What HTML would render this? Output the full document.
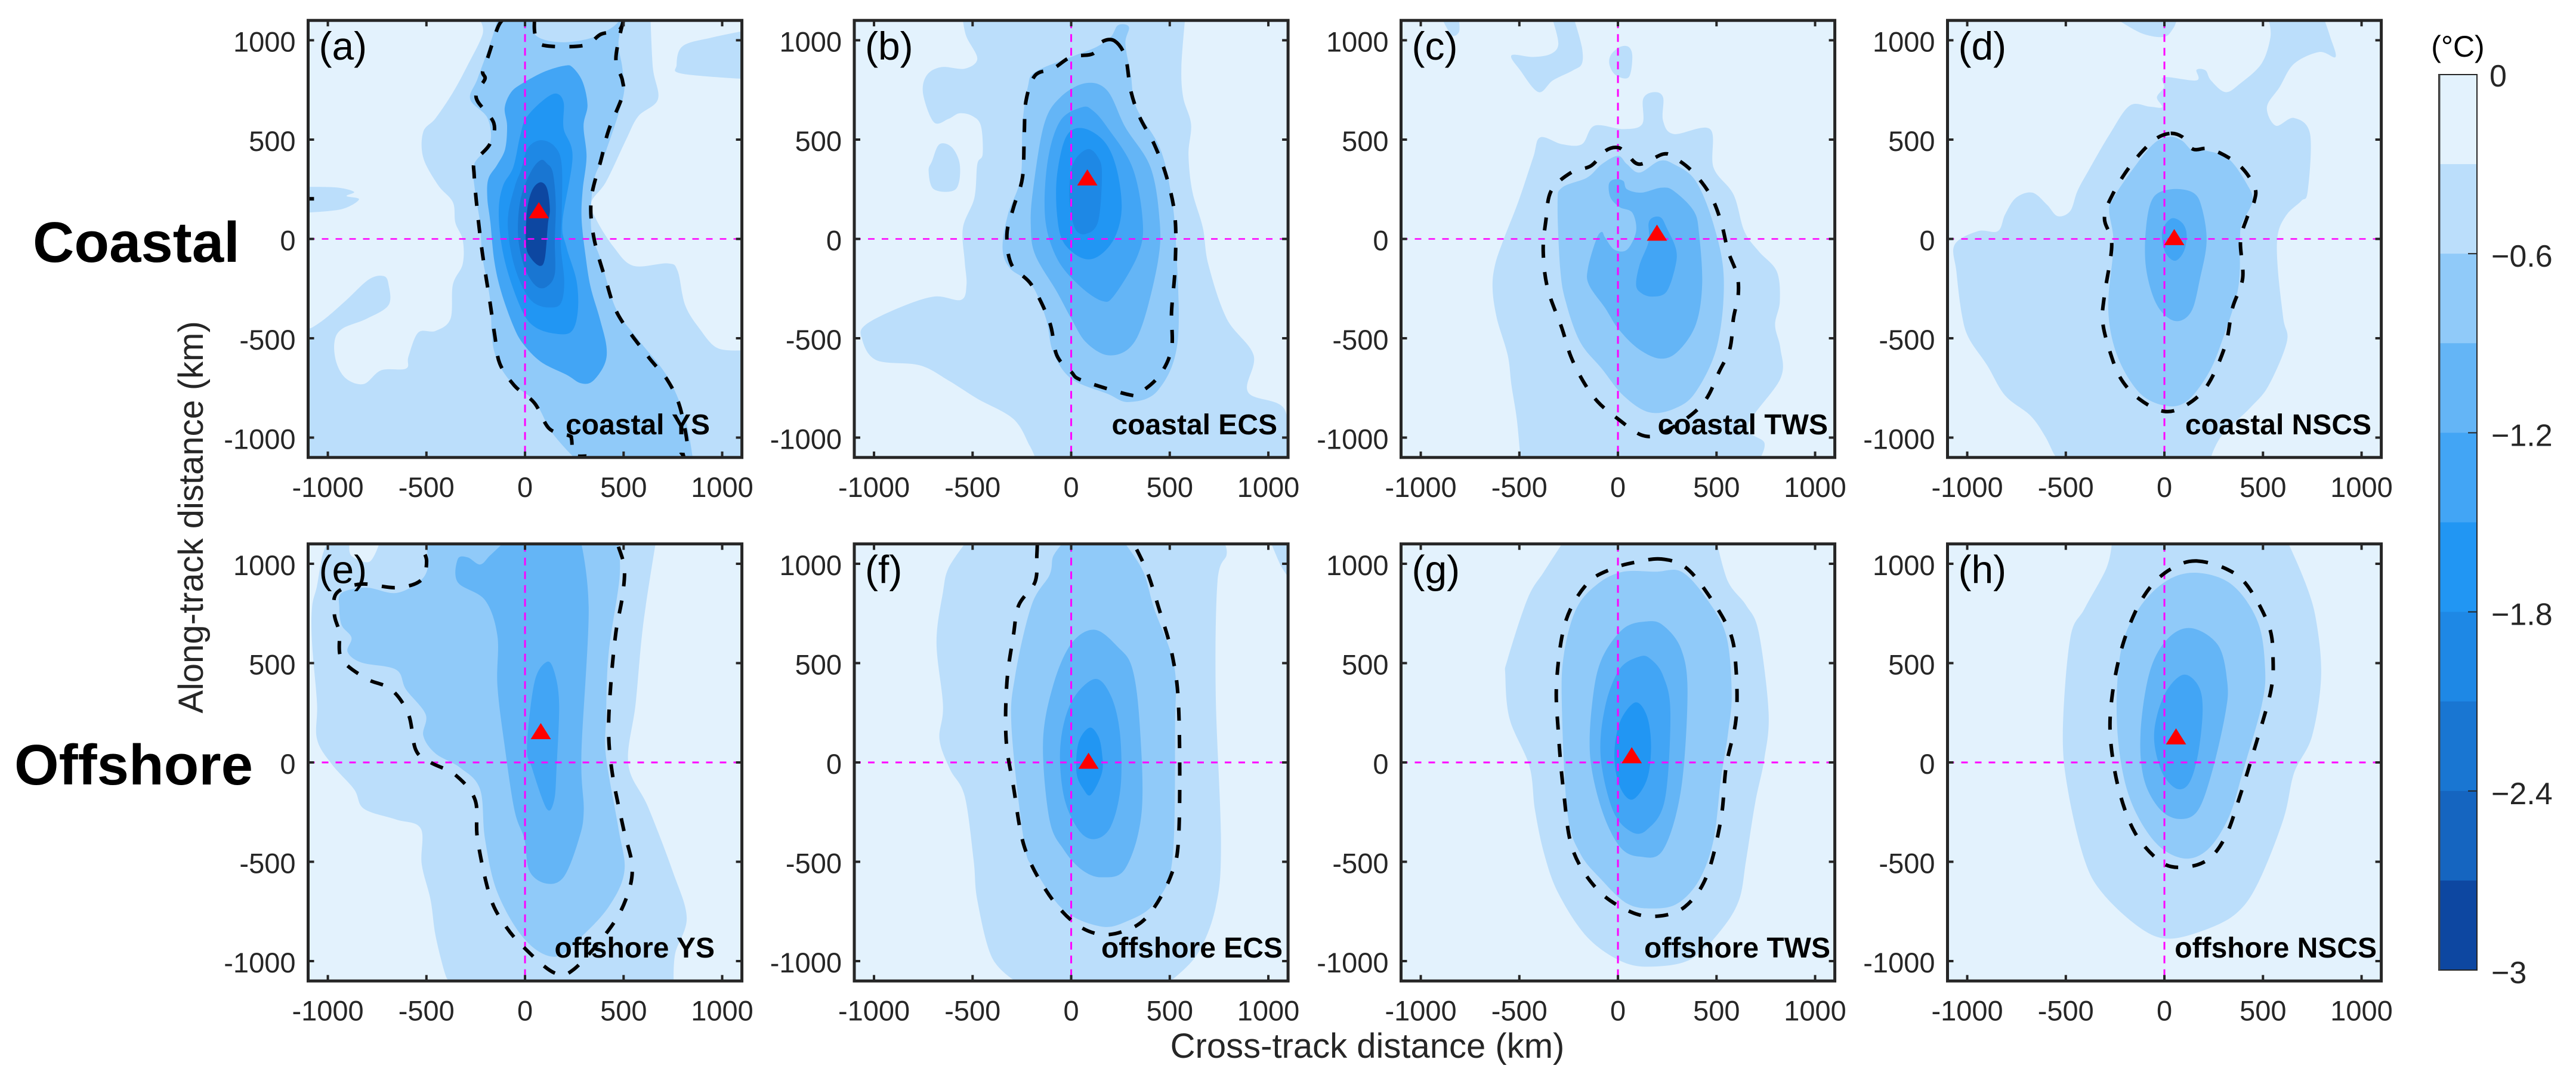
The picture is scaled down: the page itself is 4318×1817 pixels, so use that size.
<!DOCTYPE html>
<html lang="en">
<head>
<meta charset="utf-8">
<title>Cooling composites along track</title>
<style>
html,body{margin:0;padding:0;background:#fff;}
svg{display:block;font-family:"Liberation Sans",Arial,sans-serif;}
</style>
</head>
<body>
<svg id="figure" xmlns="http://www.w3.org/2000/svg" width="4318" height="1817" viewBox="0 0 4318 1817">
  <rect x="0" y="0" width="4318" height="1817" fill="#ffffff"/>
  <text x="55" y="439" font-size="96" font-weight="700" fill="#000">Coastal</text>
  <text x="24" y="1315" font-size="96" font-weight="700" fill="#000">Offshore</text>
  <text transform="translate(340,867) rotate(-90)" text-anchor="middle" font-size="58" fill="#262626">Along-track distance (km)</text>
  <text x="2292" y="1773" text-anchor="middle" font-size="58" fill="#262626">Cross-track distance (km)</text>
  <text x="4120" y="95" text-anchor="middle" font-size="50" fill="#000">(°C)</text>
</svg>
<script>
// ---- shared data ----
const panelIds = ['a','b','c','d','e','f','g','h'];
const panelTags = ['(a)','(b)','(c)','(d)','(e)','(f)','(g)','(h)'];
const regionNames = ['coastal YS','coastal ECS','coastal TWS','coastal NSCS','offshore YS','offshore ECS','offshore TWS','offshore NSCS'];
const tickValues = [-1000,-500,0,500,1000];
const tickLabels = ['-1000','-500','0','500','1000'];
const bandColors = ['#E3F2FD','#BBDEFB','#90CAF9','#64B5F6','#42A5F5','#2196F3','#1E88E5','#1976D2','#1565C0','#0D47A1'];
const colorbarTicks = [0,-0.6,-1.2,-1.8,-2.4,-3];
const colorbarTickLabels = ['0','\u22120.6','\u22121.2','\u22121.8','\u22122.4','\u22123'];
const colorbarMin = -3;
const colorbarMax = 0;

// peak cooling location of each panel: cross-track km, along-track km
const peakA = [70,143];
const peakB = [82,308];
const peakC = [198,30];
const peakD = [50,8];
const peakE = [80,156];
const peakF = [88,7];
const peakG = [70,35];
const peakH = [59,130];

// ---- contours (cross-track km, along-track km) ----
const aBand1 = [[-228,1100],[-215,1031],[-290,876],[-366,737],[-453,608],[-516,539],[-516,409],[-441,271],[-366,185],[-353,81],[-316,-5],[-316,-126],[-366,-230],[-378,-402],[-454,-463],[-541,-471],[-591,-592],[-604,-653],[-729,-661],[-817,-730],[-905,-705],[-955,-627],[-967,-523],[-930,-454],[-804,-402],[-692,-333],[-692,-230],[-717,-187],[-792,-204],[-905,-307],[-1005,-394],[-1080,-446],[-1100,-446],[-1100,-1100],[1100,-1100],[1100,-561],[975,-549],[887,-454],[812,-333],[774,-161],[724,-123],[549,-135],[449,-40],[361,98],[336,185],[411,288],[511,496],[574,617],[674,703],[649,858],[637,1100]];
const aBand1Left = [[-1100,262],[-955,259],[-867,237],[-905,216],[-842,199],[-930,150],[-1100,133]];
const aBand1Right = [[1100,1045],[950,1014],[800,971],[769,876],[794,832],[1100,806]];
const aBand2 = [[-140,1100],[-178,979],[-241,806],[-278,703],[-190,608],[-178,478],[-258,375],[-253,237],[-228,81],[-216,-92],[-178,-299],[-158,-558],[-78,-713],[48,-817],[135,-972],[248,-1100],[850,-1100],[812,-903],[724,-696],[574,-506],[461,-351],[386,-109],[336,47],[348,288],[411,444],[499,720],[494,858],[474,979],[494,1100]];
const aHole = [[35,1100],[60,1020],[180,990],[330,1010],[435,1060],[480,1100]];
const aBand4 = [[201,872],[101,843],[-10,785],[-70,739],[-103,660],[-91,569],[-101,452],[-141,373],[-186,302],[-191,204],[-176,86],[-156,-110],[-121,-266],[-60,-436],[-10,-527],[81,-619],[211,-684],[282,-726],[342,-717],[403,-632],[413,-540],[378,-397],[332,-240],[307,-84],[287,99],[292,243],[312,413],[297,569],[317,674],[292,791],[242,863]];
const aBand5 = [[156,732],[86,693],[5,608],[-25,517],[-60,360],[-111,269],[-133,151],[-121,-18],[-81,-188],[-10,-371],[50,-443],[141,-475],[232,-469],[267,-371],[262,-214],[211,-44],[190,86],[241,413],[196,556],[196,687]];
const aBand6 = [[81,497],[15,458],[-20,347],[-50,269],[-85,125],[-81,-5],[-50,-149],[0,-266],[50,-325],[121,-345],[181,-325],[199,-214],[181,-31],[186,125],[186,373],[151,465]];
const aBand7 = [[81,397],[35,347],[-15,230],[-35,99],[-30,-31],[5,-162],[60,-240],[111,-240],[151,-175],[151,-5],[156,178],[141,334],[111,380]];
const aBand9 = [[76,285],[35,243],[10,138],[5,-31],[30,-97],[76,-136],[101,-97],[116,73],[126,151],[111,256]];
const aDashLeft = [[-115,1100],[-140,1060],[-190,910],[-215,841],[-203,806],[-241,746],[-241,694],[-158,582],[-178,478],[-253,392],[-258,323],[-241,133],[-216,-74],[-178,-316],[-153,-489],[-128,-627],[-53,-739],[48,-826],[123,-955],[223,-990],[236,-1007],[248,-1085],[311,-1093]];
const aDashRight = [[499,1100],[461,910],[494,798],[494,720],[424,547],[386,400],[336,202],[348,12],[411,-212],[474,-385],[624,-592],[724,-713],[787,-851],[825,-1059],[787,-1085]];
const aDashTop = [[48,1100],[53,1022],[98,974],[298,974],[386,1031],[474,1048],[499,1100]];
const aDashDab = [[-1100,202],[-1070,202]];

const bBand1 = [[-549,1100],[-531,1017],[-476,907],[-540,857],[-659,865],[-733,823],[-751,730],[-696,587],[-623,604],[-568,632],[-504,620],[-458,570],[-449,427],[-476,376],[-491,207],[-549,56],[-540,-113],[-531,-231],[-559,-307],[-696,-290],[-879,-349],[-1044,-433],[-1062,-501],[-989,-610],[-769,-636],[-623,-712],[-476,-804],[-293,-906],[-211,-1040],[-183,-1100],[1100,-1100],[1081,-855],[897,-771],[925,-585],[788,-400],[696,-130],[668,56],[614,241],[595,427],[608,578],[568,713],[559,865],[577,1100]];
const bBand1Blob = [[-705,393],[-723,342],[-696,250],[-586,250],[-564,368],[-604,460],[-668,477]];
const bBand2 = [[201,1017],[128,966],[0,916],[-183,840],[-220,764],[-247,578],[-256,309],[-321,123],[-348,-46],[-311,-147],[-201,-231],[-128,-400],[-92,-568],[0,-703],[183,-779],[293,-821],[440,-762],[540,-518],[531,-12],[504,241],[449,460],[330,663],[302,831],[275,983],[293,1067],[238,1076]];
const bBand3 = [[73,784],[-55,713],[-137,578],[-192,258],[-205,72],[-183,-79],[-73,-265],[0,-400],[73,-518],[183,-585],[293,-551],[366,-417],[440,-113],[449,89],[403,359],[275,562],[183,747]];
const bBand4 = [[55,663],[-55,595],[-119,393],[-132,106],[-73,-96],[37,-231],[156,-312],[220,-282],[339,-79],[363,89],[311,359],[183,562],[110,646]];
const bBand5 = [[55,558],[-27,511],[-73,309],[-70,106],[-37,-20],[55,-96],[137,-88],[220,5],[256,157],[229,359],[165,494]];
const bBand6 = [[82,452],[9,376],[-9,207],[18,56],[73,25],[137,89],[156,325],[137,410]];
const bDash = [[220,997],[156,992],[110,932],[0,916],[-92,857],[-183,823],[-229,696],[-238,528],[-247,309],[-293,157],[-326,22],[-302,-130],[-201,-231],[-110,-417],[-73,-585],[0,-669],[55,-712],[293,-784],[348,-774],[449,-686],[509,-551],[509,-366],[527,-147],[527,106],[485,309],[421,477],[348,612],[302,747],[275,916]];

const cBand1 = [[183,739],[128,705],[123,578],[27,553],[-119,570],[-183,477],[-284,477],[-394,511],[-430,410],[-504,191],[-577,5],[-623,-130],[-636,-248],[-614,-400],[-559,-585],[-540,-737],[-513,-906],[-495,-1100],[723,-1100],[742,-1024],[659,-939],[824,-703],[824,-551],[797,-433],[821,-315],[806,-164],[714,-62],[641,39],[586,224],[485,359],[467,553],[284,528],[229,595],[229,713]];
const cBand1Top = [[-330,1100],[-302,983],[-339,932],[-430,916],[-540,924],[-495,848],[-403,739],[-330,798],[-229,848],[-183,882],[-183,966],[-220,1100]];
const cBand1Mid = [[9,966],[-37,924],[-42,873],[-9,823],[55,814],[73,916],[55,966]];
const cBand1Corner = [[-888,1100],[-842,1025],[-806,1042],[-806,1100]];
const cBand2 = [[0,418],[-82,376],[-156,309],[-284,258],[-306,174],[-293,-147],[-265,-315],[-192,-518],[-82,-653],[27,-788],[156,-872],[284,-855],[394,-771],[504,-535],[537,-197],[485,73],[394,292],[284,376],[211,393],[110,334],[46,376]];
const cBand3 = [[-18,300],[-46,275],[-37,207],[9,160],[73,132],[92,39],[46,-54],[-18,-54],[-64,5],[-82,35],[-110,-3],[-152,-147],[-147,-231],[-64,-349],[0,-450],[101,-551],[211,-602],[302,-568],[394,-433],[427,-231],[412,22],[385,140],[284,241],[220,258],[119,233],[46,250],[27,292]];
const cBand4 = [[183,110],[156,81],[156,-12],[110,-130],[92,-231],[119,-273],[174,-290],[247,-265],[293,-130],[293,-46],[247,56],[220,106]];
const cDash = [[0,460],[-64,443],[-137,368],[-238,334],[-339,241],[-366,89],[-379,-62],[-357,-248],[-284,-450],[-238,-594],[-174,-720],[-101,-821],[0,-906],[119,-987],[211,-981],[357,-897],[449,-804],[513,-669],[568,-551],[586,-400],[610,-282],[604,-180],[559,-62],[522,89],[467,224],[375,342],[284,410],[229,427],[110,376],[46,427]];

const dBand1Top = [[-231,1100],[-112,1034],[-2,1017],[44,1059],[62,1100]];
const dBand1 = [[529,1100],[538,1017],[493,883],[383,781],[309,739],[236,798],[209,848],[163,851],[163,798],[-2,814],[-2,764],[-38,713],[-11,663],[-75,666],[-176,671],[-277,528],[-386,342],[-441,241],[-478,140],[-542,115],[-597,174],[-670,233],[-753,207],[-808,123],[-845,39],[-946,39],[-1064,-29],[-1055,-164],[-1027,-383],[-991,-501],[-899,-636],[-808,-788],[-680,-889],[-607,-990],[-560,-1083],[-542,-1100],[236,-1100],[291,-990],[438,-847],[529,-737],[621,-518],[603,-400],[575,-147],[575,22],[621,123],[694,191],[727,241],[739,528],[657,609],[565,570],[520,663],[584,764],[658,882],[786,941],[868,916],[841,1017],[813,1100]];
const dBand2 = [[26,514],[-57,477],[-167,342],[-258,207],[-280,140],[-258,-29],[-285,-349],[-240,-585],[-130,-771],[-2,-838],[108,-821],[218,-686],[291,-518],[374,-248],[383,-12],[392,73],[447,191],[419,275],[328,401],[218,443],[145,443],[90,494]];
const dBand3 = [[35,250],[-57,207],[-93,56],[-93,-147],[-38,-332],[53,-413],[136,-366],[181,-197],[214,-12],[190,157],[145,233]];
const dBand4 = [[35,103],[-11,39],[2,-62],[53,-110],[99,-62],[113,22],[90,81]];
const dDash = [[26,531],[-57,494],[-167,376],[-258,233],[-304,106],[-267,-29],[-304,-282],[-313,-417],[-276,-568],[-221,-703],[-130,-804],[-2,-868],[108,-838],[218,-737],[309,-535],[345,-349],[397,-197],[386,-12],[419,106],[456,191],[456,266],[374,376],[236,452],[145,452],[90,514]];

const eBand1 = [[-1005,1100],[-1030,1032],[-1055,889],[-1080,781],[-1080,601],[-1055,296],[-1055,117],[-980,-9],[-867,-135],[-817,-233],[-654,-287],[-529,-332],[-524,-512],[-479,-691],[-454,-871],[-404,-1068],[-378,-1100],[754,-1100],[762,-960],[820,-781],[749,-548],[624,-224],[524,-9],[561,296],[599,691],[662,1100]];
const eGap = [[-890,1100],[-880,1040],[-790,1010],[-740,1100]];
const eBand2 = [[-504,1100],[-491,996],[-529,916],[-654,853],[-805,880],[-930,853],[-942,781],[-930,691],[-880,628],[-900,557],[-830,503],[-654,467],[-604,368],[-504,242],[-516,135],[-454,45],[-328,-27],[-228,-135],[-203,-386],[-140,-655],[-3,-889],[148,-978],[273,-889],[424,-727],[504,-548],[474,-332],[411,27],[411,224],[424,548],[479,925],[474,1100]];
const eBand3 = [[-341,1023],[-341,907],[-203,817],[-140,637],[-140,386],[-103,81],[-53,-242],[-3,-386],[23,-548],[110,-610],[198,-574],[273,-386],[298,-242],[286,45],[323,763],[286,1100],[-115,1100],[-178,1041],[-228,996],[-291,1032]];
const eBand4 = [[110,506],[48,404],[10,81],[35,-27],[110,-233],[148,-189],[160,-27],[173,296],[148,458]];
const eDash = [[474,1086],[504,978],[494,835],[461,655],[436,404],[424,153],[444,-63],[499,-332],[544,-530],[511,-691],[424,-844],[248,-1041],[148,-1059],[-3,-934],[-103,-817],[-178,-673],[-241,-386],[-253,-189],[-353,-63],[-479,0],[-554,63],[-591,242],[-679,368],[-805,422],[-930,521],[-942,655],[-967,745],[-955,853],[-830,898],[-654,880],[-529,916],[-499,1014],[-529,1086]];

const fBand1 = [[-540,1100],[-623,976],[-650,858],[-683,605],[-650,285],[-668,116],[-614,-35],[-540,-170],[-495,-491],[-476,-693],[-403,-980],[-284,-1100],[504,-1100],[641,-963],[733,-727],[760,-406],[733,352],[742,909],[788,1044],[779,1100]];
const fBand1Corner = [[1016,1100],[1062,993],[1100,934],[1100,1100]];
const fBand2 = [[-46,1100],[-92,1035],[-110,943],[-201,791],[-284,437],[-302,167],[-238,-406],[-183,-541],[-37,-744],[147,-825],[275,-803],[421,-710],[513,-491],[527,184],[522,487],[421,774],[366,960],[275,1100]];
const fBand3 = [[119,668],[0,597],[-92,386],[-143,99],[-110,-288],[-37,-440],[55,-541],[156,-578],[275,-533],[357,-255],[348,184],[311,470],[238,580]];
const fBand4 = [[119,420],[0,302],[-55,83],[-37,-170],[37,-339],[119,-386],[201,-322],[251,-120],[247,150],[201,336]];
const fBand5 = [[92,175],[37,99],[27,-52],[64,-137],[101,-162],[156,-52],[156,49],[137,133]];
const fDash = [[-172,1094],[-174,1044],[-183,909],[-266,791],[-293,639],[-326,403],[-330,116],[-293,-120],[-238,-423],[-128,-643],[0,-794],[128,-862],[256,-853],[385,-777],[504,-575],[546,-356],[546,251],[513,538],[440,791],[385,960],[321,1094]];

const gBand1 = [[-284,1100],[-375,960],[-458,825],[-559,521],[-571,437],[-549,218],[-449,-19],[-421,-238],[-375,-457],[-302,-659],[-156,-879],[27,-1005],[192,-1027],[375,-988],[522,-845],[614,-693],[650,-491],[696,-204],[742,15],[764,251],[714,656],[650,791],[559,909],[504,1100]];
const gBand2 = [[192,960],[27,960],[-101,900],[-211,774],[-275,538],[-284,268],[-256,-255],[-192,-457],[-82,-592],[46,-710],[174,-735],[302,-710],[412,-592],[485,-390],[522,-86],[559,150],[577,352],[549,639],[449,825],[322,960]];
const gBand3 = [[147,710],[27,673],[-82,521],[-128,319],[-141,32],[-82,-238],[9,-423],[110,-474],[229,-440],[320,-137],[353,352],[320,572],[229,690]];
const gBand4 = [[110,533],[9,470],[-64,285],[-88,32],[-27,-238],[64,-347],[147,-339],[238,-187],[266,251],[229,437],[165,521]];
const gBand5 = [[88,302],[9,201],[-18,32],[9,-120],[73,-187],[147,-86],[168,83],[147,234]];
const gDash = [[220,1024],[101,1010],[-27,976],[-156,900],[-266,707],[-311,403],[-302,150],[-275,-153],[-229,-440],[-101,-643],[64,-752],[201,-774],[339,-727],[449,-575],[522,-288],[549,-19],[599,218],[599,470],[568,656],[449,858],[339,985]];

const hBand1 = [[-267,1100],[-295,976],[-405,774],[-478,622],[-515,150],[-487,-153],[-405,-491],[-313,-659],[-130,-828],[16,-887],[200,-845],[364,-760],[474,-609],[603,-288],[658,-52],[749,133],[795,437],[768,723],[713,909],[630,1100]];
const hBand2 = [[172,954],[16,917],[-130,774],[-222,555],[-240,184],[-185,-153],[-57,-390],[90,-482],[218,-440],[328,-272],[401,-35],[493,285],[511,470],[474,707],[346,892]];
const hBand3 = [[136,676],[16,622],[-75,454],[-121,150],[-103,-86],[-20,-238],[81,-285],[172,-238],[245,-35],[310,251],[319,403],[273,589]];
const hBand4 = [[99,442],[16,369],[-38,234],[-51,99],[-11,-52],[62,-132],[126,-103],[172,49],[194,268],[172,386]];
const hDash = [[163,1014],[53,985],[-57,900],[-148,757],[-222,555],[-267,319],[-273,116],[-231,-137],[-148,-356],[-20,-499],[90,-528],[218,-491],[310,-373],[383,-170],[456,66],[538,352],[551,521],[529,690],[419,892],[310,976]];

// band index + contour, painted in order
const panelFills = {
  a:[[1,aBand1],[1,aBand1Left],[1,aBand1Right],[2,aBand2],[1,aHole],[4,aBand4],[5,aBand5],[6,aBand6],[7,aBand7],[9,aBand9]],
  b:[[1,bBand1],[1,bBand1Blob],[2,bBand2],[3,bBand3],[4,bBand4],[5,bBand5],[6,bBand6]],
  c:[[1,cBand1],[1,cBand1Top],[1,cBand1Mid],[1,cBand1Corner],[2,cBand2],[3,cBand3],[4,cBand4]],
  d:[[1,dBand1Top],[1,dBand1],[2,dBand2],[3,dBand3],[4,dBand4]],
  e:[[1,eBand1],[0,eGap],[2,eBand2],[3,eBand3],[4,eBand4]],
  f:[[1,fBand1],[1,fBand1Corner],[2,fBand2],[3,fBand3],[4,fBand4],[5,fBand5]],
  g:[[1,gBand1],[2,gBand2],[3,gBand3],[4,gBand4],[5,gBand5]],
  h:[[1,hBand1],[2,hBand2],[3,hBand3],[4,hBand4]]
};
// contour + closed flag
const panelDashes = {
  a:[[aDashLeft,false],[aDashRight,false],[aDashTop,false],[aDashDab,false]],
  b:[[bDash,true]],
  c:[[cDash,true]],
  d:[[dDash,true]],
  e:[[eDash,false]],
  f:[[fDash,false]],
  g:[[gDash,true]],
  h:[[hDash,true]]
};
const panelPeaks = {a:peakA,b:peakB,c:peakC,d:peakD,e:peakE,f:peakF,g:peakG,h:peakH};

// ---- layout ----
const svg = document.getElementById('figure');
const NS = 'http://www.w3.org/2000/svg';
const columnLefts = [516.5,1432,2348.5,3264.5];
const rowZeros = [400.5,1278];
const labelRights = [1190,2141,3064,3975,1198,2150,3068,3984];
const axisLimit = 1100;
const kmX = 0.3305;
const kmY = 0.333;

function make(tag, attrs, parent, text){
  const el = document.createElementNS(NS, tag);
  for (const k in attrs) el.setAttribute(k, attrs[k]);
  if (text !== undefined) el.textContent = text;
  (parent || svg).appendChild(el);
  return el;
}
function smoothPath(points, closed, sx, sy){
  const n = points.length;
  const P = points.map(function(p){return [sx(p[0]), sy(p[1])];});
  const onEdge = points.map(function(p){return Math.abs(p[0])>=axisLimit || Math.abs(p[1])>=axisLimit;});
  function at(i){ return closed ? P[(i+n)%n] : P[Math.max(0,Math.min(n-1,i))]; }
  function edge(i){ return closed ? onEdge[(i+n)%n] : onEdge[Math.max(0,Math.min(n-1,i))]; }
  let d = 'M' + P[0][0].toFixed(1) + ' ' + P[0][1].toFixed(1);
  const last = closed ? n : n-1;
  for (let i=0;i<last;i++){
    const p0=at(i-1), p1=at(i), p2=at(i+1), p3=at(i+2);
    const c1 = edge(i) ? p1 : [p1[0]+(p2[0]-p0[0])/6, p1[1]+(p2[1]-p0[1])/6];
    const c2 = edge(i+1) ? p2 : [p2[0]-(p3[0]-p1[0])/6, p2[1]-(p3[1]-p1[1])/6];
    d += 'C'+c1[0].toFixed(1)+' '+c1[1].toFixed(1)+' '+c2[0].toFixed(1)+' '+c2[1].toFixed(1)+' '+p2[0].toFixed(1)+' '+p2[1].toFixed(1);
  }
  return d + (closed ? 'Z' : '');
}

panelIds.forEach(function(id, idx){
  const col = idx % 4;
  const row = Math.floor(idx / 4);
  const x0 = columnLefts[col] + axisLimit*kmX;
  const y0 = rowZeros[row];
  const sx = function(v){ return x0 + v*kmX; };
  const sy = function(v){ return y0 - v*kmY; };
  const left = sx(-axisLimit), right = sx(axisLimit), top = sy(axisLimit), bottom = sy(-axisLimit);

  const g = make('g', {}, svg);
  
  

  const clip = make('clipPath', {id:'clip-'+id}, g);
  make('rect', {x:left, y:top, width:right-left, height:bottom-top}, clip);

  const bg = make('rect', {x:left, y:top, width:right-left, height:bottom-top, fill:bandColors[0]}, g);
  
  

  const plot = make('g', {'clip-path':'url(#clip-'+id+')'}, g);
  
  

  panelFills[id].forEach(function(item){
    const shape = make('path', {d:smoothPath(item[1], true, sx, sy), fill:bandColors[item[0]]}, plot);
    
    
  });

  const hLine = make('line', {x1:left, x2:right, y1:sy(0), y2:sy(0), stroke:'#FF00FF', 'stroke-width':row===0?2.5:3, 'stroke-dasharray':'11 12'}, plot);
  
  
  const vLine = make('line', {x1:sx(0), x2:sx(0), y1:top, y2:bottom, stroke:'#FF00FF', 'stroke-width':3, 'stroke-dasharray':'13 10'}, plot);
  
  

  panelDashes[id].forEach(function(item){
    const dash = make('path', {d:smoothPath(item[0], item[1], sx, sy), fill:'none', stroke:'#000', 'stroke-width':6, 'stroke-dasharray':'22 24'}, plot);
    
    
  });

  const peak = panelPeaks[id];
  const px = sx(peak[0]), py = sy(peak[1]);
  const tri = make('polygon', {points:px+','+(py-14)+' '+(px-17)+','+(py+13)+' '+(px+17)+','+(py+13), fill:'#FF0000'}, g);
  
  

  const frame = make('rect', {x:left, y:top, width:right-left, height:bottom-top, fill:'none', stroke:'#262626', 'stroke-width':5}, g);
  
  

  tickValues.forEach(function(v, i){
    [[sx(v),top,sx(v),top+10],[sx(v),bottom,sx(v),bottom-10],[left,sy(v),left+10,sy(v)],[right,sy(v),right-10,sy(v)]].forEach(function(t){
      const tick = make('line', {x1:t[0], y1:t[1], x2:t[2], y2:t[3], stroke:'#262626', 'stroke-width':4}, g);
      
      
    });
    const xl = make('text', {x:sx(v), y:bottom+66, 'text-anchor':'middle', 'font-size':47, fill:'#262626'}, g, tickLabels[i]);
    
    
    const yl = make('text', {x:left-21, y:sy(v)+19, 'text-anchor':'end', 'font-size':47, fill:'#262626'}, g, tickLabels[i]);
    
    
  });

  const tag = make('text', {x:left+18, y:top+66, 'font-size':66, fill:'#000'}, g, panelTags[idx]);
  
  

  const region = make('text', {x:labelRights[idx], y:row===0?728:1605, 'text-anchor':'end', 'font-size':48, 'font-weight':700, fill:'#000'}, g, regionNames[idx]);
  
  
});

// ---- colorbar ----
const cbLeft = 4088, cbRight = 4152, cbTop = 125, cbBottom = 1626;
function cbY(v){ return cbTop + (colorbarMax - v)/(colorbarMax - colorbarMin)*(cbBottom - cbTop); }
const cb = make('g', {}, svg);


bandColors.forEach(function(c, i){
  const step = (colorbarMax - colorbarMin)/bandColors.length;
  const y1 = cbY(colorbarMax - i*step), y2 = cbY(colorbarMax - (i+1)*step);
  const seg = make('rect', {x:cbLeft, y:y1, width:cbRight-cbLeft, height:y2-y1+0.5, fill:c}, cb);
  
  
});
const cbFrame = make('rect', {x:cbLeft, y:cbTop, width:cbRight-cbLeft, height:cbBottom-cbTop, fill:'none', stroke:'#262626', 'stroke-width':2}, cb);


const cbEdge = make('line', {x1:cbLeft+1, x2:cbLeft+1, y1:cbTop, y2:cbBottom, stroke:'#444', 'stroke-width':3}, cb);


colorbarTicks.forEach(function(v, i){
  if (i > 0 && i < colorbarTicks.length-1){
    const t = make('line', {x1:cbRight-15, x2:cbRight, y1:cbY(v), y2:cbY(v), stroke:'#262626', 'stroke-width':2}, cb);
    
    
  }
  const lbl = make('text', {x:i===0?4173:4176, y:cbY(v)+(i===0?20:22), 'font-size':52, fill:'#262626'}, cb, colorbarTickLabels[i]);
  
  
});
</script>
</body>
</html>
